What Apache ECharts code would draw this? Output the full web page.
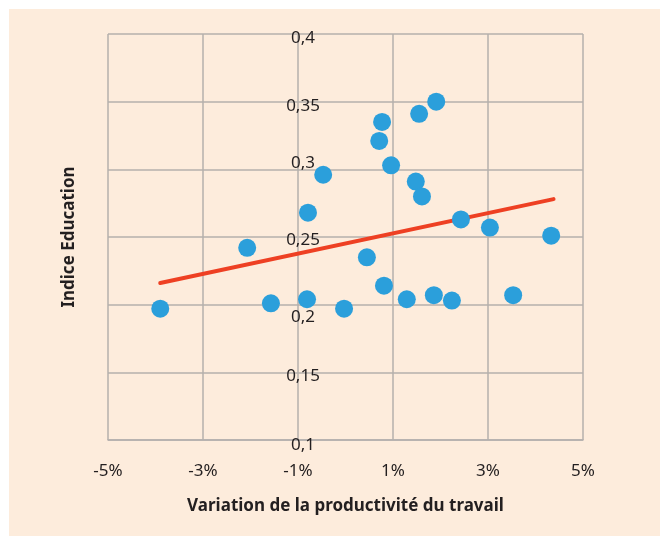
<!DOCTYPE html>
<html>
<head>
<meta charset="utf-8">
<script src="https://cdn.jsdelivr.net/npm/echarts@6/dist/echarts.min.js"></script>
<style>
  html, body { margin: 0; padding: 0; background: #fff; }
  #main { width: 660px; height: 536px; }
</style>
</head>
<body>
<div id="main"></div>
<script>
// productivité du travail (%) / indice éducation
var prodX = [-3.9, -2.07, -1.57, -0.81, -0.79, -0.47, -0.03, 0.45, 0.81, 0.71, 0.77, 0.96,
             1.29, 1.48, 1.55, 1.61, 1.91, 1.86, 2.24, 2.43, 3.04, 3.53, 4.33];
var eduY = [0.197, 0.242, 0.201, 0.204, 0.268, 0.296, 0.197, 0.235, 0.214, 0.321, 0.335, 0.303,
            0.204, 0.291, 0.341, 0.280, 0.350, 0.207, 0.203, 0.263, 0.257, 0.207, 0.251];
// droite de tendance (extrémités)
var trendX = [-3.9, 4.38];
var trendY = [0.216, 0.278];

var xTicks = [-5, -3, -1, 1, 3, 5];
var yTicks = [0.1, 0.15, 0.2, 0.25, 0.3, 0.35, 0.4];

var points = prodX.map(function (x, i) { return [x, eduY[i]]; });
var trend = trendX.map(function (x, i) { return [x, trendY[i]]; });

var font = '"Noto Sans", sans-serif';
var gridColor = '#b4b0ad';
var textColor = '#231f20';

// petit décalage vertical des libellés de l'axe Y (comme dans l'original)
var yShift = [5, 4, 12, 3, -6, 4, 4];
var yRich = {};
yShift.forEach(function (d, i) {
    yRich['l' + i] = {
        fontFamily: font, fontSize: 17, color: textColor,
        padding: d >= 0 ? [2 * d, 0, 0, 0] : [0, 0, -2 * d, 0]
    };
});

var myChart = echarts.init(document.getElementById('main'));
myChart.setOption({
    animation: false,
    backgroundColor: '#ffffff',
    graphic: [{
        type: 'rect',
        z: -10,
        shape: { x: 9, y: 9, width: 660, height: 536 },
        style: { fill: '#fdecdc' }
    }],
    grid: { left: 108, right: 77, top: 34, bottom: 96, outerBoundsMode: 'none', containLabel: false },
    xAxis: {
        type: 'value',
        min: -5,
        max: 5,
        interval: 2,
        name: 'Variation de la productivité du travail',
        nameLocation: 'middle',
        nameGap: 58,
        nameTextStyle: { fontFamily: font, fontSize: 17, fontWeight: 'bold', color: textColor },
        axisLine: { show: true, onZero: false, lineStyle: { color: gridColor, width: 1.5 } },
        axisTick: { show: false },
        axisLabel: {
            fontFamily: font, fontSize: 17, color: textColor, margin: 23,
            formatter: function (v) { return xTicks.indexOf(v) >= 0 ? v + '%' : ''; }
        },
        splitLine: { show: true, lineStyle: { color: gridColor, width: 1.5 } }
    },
    yAxis: {
        type: 'value',
        min: 0.1,
        max: 0.4,
        interval: 0.05,
        name: 'Indice Education',
        nameLocation: 'middle',
        nameRotate: 90,
        nameGap: 30,
        nameTextStyle: { fontFamily: font, fontSize: 17, fontWeight: 'bold', color: textColor },
        axisLine: { show: false, onZero: false },
        axisTick: { show: false },
        axisLabel: {
            fontFamily: font, fontSize: 17, color: textColor, margin: -195, align: 'center',
            rich: yRich,
            formatter: function (v) {
                for (var i = 0; i < yTicks.length; i++) {
                    if (Math.abs(yTicks[i] - v) < 1e-9) {
                        return '{l' + i + '|' + String(yTicks[i]).replace('.', ',') + '}';
                    }
                }
                return '';
            }
        },
        splitLine: { show: true, lineStyle: { color: gridColor, width: 1.5 } }
    },
    series: [{
        name: 'trend',
        type: 'line',
        data: trend,
        symbol: 'none',
        z: 1,
        lineStyle: { color: '#ee4023', width: 4, cap: 'round' }
    }, {
        name: 'pays',
        type: 'scatter',
        data: points,
        symbolSize: 18,
        z: 2,
        itemStyle: { color: '#2b9fdb', opacity: 1 }
    }]
});
</script>
</body>
</html>
